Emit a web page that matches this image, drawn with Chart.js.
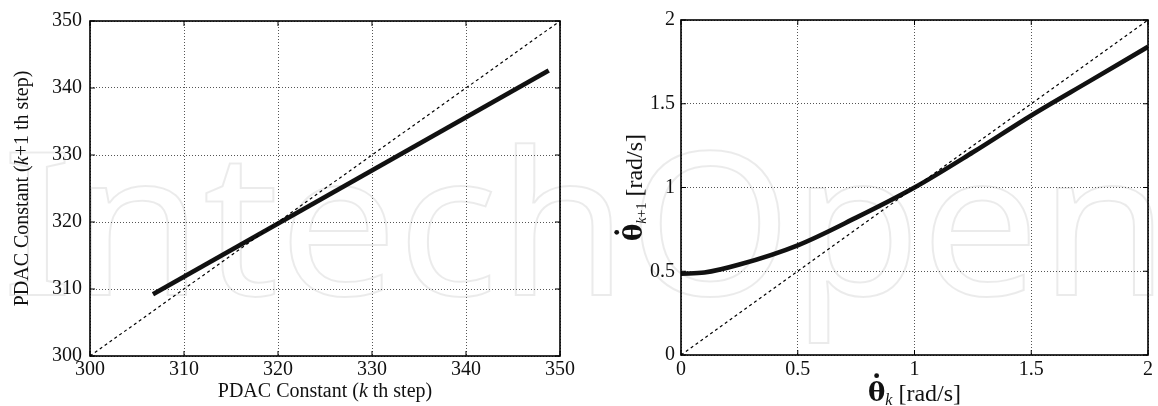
<!DOCTYPE html>
<html lang="en">
<head>
<meta charset="UTF-8">
<title>PDAC constant return maps</title>
<script src="https://cdn.jsdelivr.net/npm/chart.js"></script>
<style>
  body { margin: 0; background: #fff; }
  .wrap { position: relative; width: 1158px; height: 406px; overflow: hidden; }
  #mark { position: absolute; left: 0; top: 0; }
  .panel { position: absolute; top: 0; height: 406px; }
  #leftBox { left: 0; width: 580px; }
  #rightBox { left: 580px; width: 578px; }
</style>
</head>
<body>
<div class="wrap">
  <canvas id="mark" width="1158" height="406"></canvas>
  <div class="panel" id="leftBox"><canvas id="leftChart" width="580" height="406"></canvas></div>
  <div class="panel" id="rightBox"><canvas id="rightChart" width="578" height="406"></canvas></div>
</div>
<script>
// left panel: PDAC constant at step k vs step k+1
const pdacK = [306.7, 348.8];
const pdacK1 = [309.2, 342.6];
const pdacDiag = [300, 350];
const pdacTicks = [300, 310, 320, 330, 340, 350];

// right panel: angular velocity at step k vs step k+1
const velK = [0, 0.1, 0.25, 0.5, 0.75, 1, 1.25, 1.5, 1.75, 2];
const velK1 = [0.485, 0.492, 0.54, 0.655, 0.82, 1.0, 1.21, 1.43, 1.635, 1.84];
const velDiag = [0, 2];
const velTicks = [0, 0.5, 1, 1.5, 2];

const serif = '"Liberation Serif", "Times New Roman", serif';
Chart.defaults.font.family = serif;
Chart.defaults.color = '#111';

// faint publisher watermark behind both plots
const mk = document.getElementById('mark').getContext('2d');
mk.save();
mk.scale(1.05, 1);
mk.font = '200px "Noto Sans"';
mk.strokeStyle = 'rgba(0,0,0,0.08)';
mk.lineWidth = 2;
mk.strokeText('IntechOpen', 2, 295);
mk.restore();

function pts(xs, ys) {
    return xs.map((x, i) => ({ x: x, y: ys[i] }));
}

// draws a row of text pieces with different fonts, returns where each went
function drawRuns(ctx, runs, x, y) {
    let w = 0;
    runs.forEach(r => { ctx.font = r[1]; w += ctx.measureText(r[0]).width; });
    let cx = x - w / 2;
    ctx.textAlign = 'left';
    ctx.textBaseline = 'alphabetic';
    const out = [];
    runs.forEach(r => {
        ctx.font = r[1];
        const rw = ctx.measureText(r[0]).width;
        ctx.fillText(r[0], cx, y + (r[2] || 0));
        out.push([cx, rw]);
        cx += rw;
    });
    return out;
}

function dotOver(ctx, pos, y, size) {
    ctx.beginPath();
    ctx.arc(pos[0] + pos[1] / 2, y - size * 0.78 - 5, 2.4, 0, Math.PI * 2);
    ctx.fill();
}

// box round the plot, matlab style inward ticks, axis titles
function frame(titles) {
    return {
        id: 'frame',
        afterDraw(chart) {
            const { ctx, chartArea: a, scales } = chart;
            ctx.save();
            ctx.strokeStyle = '#000';
            ctx.lineWidth = 1;
            ctx.beginPath();
            scales.x.ticks.forEach(t => {
                const px = scales.x.getPixelForValue(t.value);
                ctx.moveTo(px, a.bottom); ctx.lineTo(px, a.bottom - 5);
                ctx.moveTo(px, a.top); ctx.lineTo(px, a.top + 5);
            });
            scales.y.ticks.forEach(t => {
                const py = scales.y.getPixelForValue(t.value);
                ctx.moveTo(a.left, py); ctx.lineTo(a.left + 5, py);
                ctx.moveTo(a.right, py); ctx.lineTo(a.right - 5, py);
            });
            ctx.stroke();
            ctx.lineWidth = 1.6;
            ctx.strokeRect(a.left, a.top, a.right - a.left, a.bottom - a.top);
            ctx.fillStyle = '#111';
            titles(ctx, a);
            ctx.restore();
        }
    };
}

function makeScale(min, max, ticks, fitProp, fitVal, pad) {
    return {
        type: 'linear',
        min: min,
        max: max,
        afterBuildTicks: s => { s.ticks = ticks.map(v => ({ value: v })); },
        afterFit: s => { s[fitProp] = fitVal; },
        grid: { color: '#555', lineWidth: 1, drawTicks: false },
        border: { display: false, dash: [1, 2] },
        ticks: {
            font: { size: 20 },
            padding: pad,
            maxRotation: 0,
            autoSkip: false,
            color: '#111',
            callback: v => String(v)
        }
    };
}

function lineSets(solid, diag, smooth) {
    return [
        {
            data: diag,
            borderColor: '#000',
            borderWidth: 1.2,
            borderDash: [3, 3],
            pointRadius: 0
        },
        {
            data: solid,
            borderColor: '#111',
            borderWidth: 4.6,
            borderCapStyle: 'butt',
            pointRadius: 0,
            cubicInterpolationMode: smooth ? 'monotone' : 'default'
        }
    ];
}

function leftTitles(ctx, a) {
    const cx = (a.left + a.right) / 2;
    drawRuns(ctx, [
        ['PDAC Constant (', '20px ' + serif],
        ['k', 'italic 20px ' + serif],
        [' th step)', '20px ' + serif]
    ], cx, 397);
    ctx.save();
    ctx.translate(28, (a.top + a.bottom) / 2);
    ctx.rotate(-Math.PI / 2);
    drawRuns(ctx, [
        ['PDAC Constant (', '20px ' + serif],
        ['k', 'italic 20px ' + serif],
        ['+1 th step)', '20px ' + serif]
    ], 0, 0);
    ctx.restore();
}

function rightTitles(ctx, a) {
    const th = 'bold 26px "DejaVu Serif"';
    const cx = (a.left + a.right) / 2;
    let p = drawRuns(ctx, [
        ['\u03B8', th],
        ['k', 'italic 16px ' + serif, 4],
        [' [rad/s]', '24px ' + serif]
    ], cx, 401);
    dotOver(ctx, p[0], 401, 26);
    ctx.save();
    ctx.translate(62, (a.top + a.bottom) / 2);
    ctx.rotate(-Math.PI / 2);
    p = drawRuns(ctx, [
        ['\u03B8', th],
        ['k', 'italic 14px ' + serif, 4],
        ['+1', '14px ' + serif, 4],
        [' [rad/s]', '24px ' + serif]
    ], 0, 0);
    dotOver(ctx, p[0], 0, 26);
    ctx.restore();
}

new Chart(document.getElementById('leftChart'), {
    type: 'line',
    data: { datasets: lineSets(pts(pdacK, pdacK1), pts(pdacDiag, pdacDiag), false) },
    options: {
        responsive: false,
        animation: false,
        layout: { padding: { top: 21, right: 20, left: 0, bottom: 0 } },
        scales: {
            x: makeScale(300, 350, pdacTicks, 'height', 50, 2),
            y: makeScale(300, 350, pdacTicks, 'width', 90, 8)
        },
        plugins: { legend: { display: false }, tooltip: { enabled: false } }
    },
    plugins: [frame(leftTitles)]
});

new Chart(document.getElementById('rightChart'), {
    type: 'line',
    data: { datasets: lineSets(pts(velK, velK1), pts(velDiag, velDiag), true) },
    options: {
        responsive: false,
        animation: false,
        layout: { padding: { top: 20, right: 10, left: 0, bottom: 0 } },
        scales: {
            x: makeScale(0, 2, velTicks, 'height', 51, 3),
            y: makeScale(0, 2, velTicks, 'width', 101, 6)
        },
        plugins: { legend: { display: false }, tooltip: { enabled: false } }
    },
    plugins: [frame(rightTitles)]
});
</script>
</body>
</html>
